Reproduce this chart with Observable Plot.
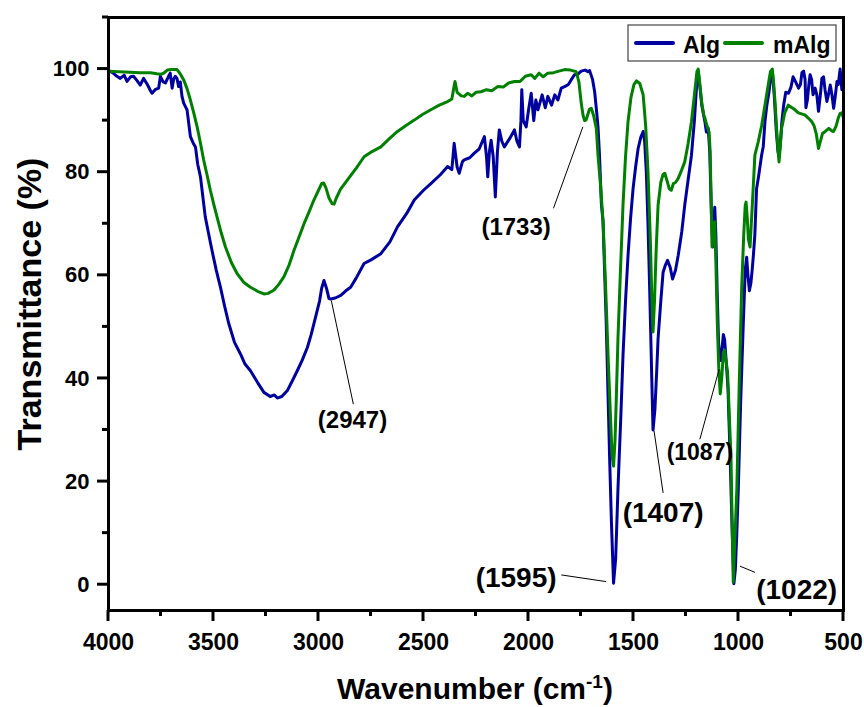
<!DOCTYPE html>
<html><head><meta charset="utf-8">
<script src="https://cdn.jsdelivr.net/npm/d3@7"></script>
<script src="https://cdn.jsdelivr.net/npm/@observablehq/plot@0.6"></script>
<style>
body{margin:0;background:#fff;}
#chart{position:relative;width:864px;height:707px;}
#chart svg text{font-weight:bold;}
</style></head><body><div id="chart"></div>
<script>
// ---- data ----
const algWn = [4000,3980,3960,3944,3925,3912,3895,3881,3865,3849,3833,3815,3800,3793,3778,3761,3753,3740,3729,3715,3706,3697,3690,3682,3674,3666,3658,3650,3642,3626,3610,3595,3586,3575,3562,3550,3539,3523,3507,3487,3467,3447,3427,3400,3371,3350,3324,3290,3260,3230,3210,3196,3175,3149,3125,3101,3078,3053,3035,3014,2995,2985,2974,2962,2950,2942,2920,2894,2870,2847,2820,2783,2750,2703,2660,2624,2580,2544,2500,2465,2420,2385,2365,2354,2340,2330,2315,2306,2280,2258,2235,2210,2200,2194,2186,2178,2168,2158,2148,2139,2127,2115,2090,2067,2055,2043,2036,2032,2025,2011,2000,1987,1975,1965,1955,1935,1920,1908,1890,1875,1860,1844,1828,1810,1797,1781,1765,1749,1730,1717,1709,1695,1685,1675,1669,1662,1653,1645,1630,1614,1605,1595,1585,1574,1560,1550,1538,1526,1514,1502,1490,1478,1465,1454,1447,1439,1431,1423,1413,1407,1398,1390,1383,1370,1359,1348,1338,1325,1314,1300,1287,1270,1256,1240,1224,1210,1200,1192,1185,1175,1160,1153,1144,1137,1129,1122,1117,1113,1108,1101,1095,1090,1084,1078,1072,1066,1058,1050,1040,1030,1022,1015,1008,1001,990,977,968,961,955,948,941,935,929,922,914,905,890,882,874,865,855,845,839,830,820,812,807,800,793,785,775,762,750,740,728,714,705,698,690,683,679,672,665,659,652,645,635,627,619,610,603,595,588,579,572,563,555,547,540,531,525,516,508,500];
const algT = [99.7,99.3,98.6,98.2,98.8,97.6,98.5,98.6,97.8,96.9,98.2,97.0,95.8,95.3,96.0,96.3,98.6,97.5,97.3,98.5,99.2,96.3,98.0,98.6,98.2,96.6,97.5,94.7,93.4,92.1,86.9,85.5,84.9,81.5,79.1,75.0,71.3,68.0,64.8,61.0,57.7,54.0,50.6,47.0,44.7,42.8,41.5,39.2,37.3,36.5,36.8,36.2,36.5,37.6,39.5,41.5,43.5,46.0,48.5,51.9,55.0,57.5,59.0,57.5,55.5,55.4,55.6,56.1,57.0,57.7,59.5,62.3,63.0,64.2,66.5,69.4,72.0,74.6,76.5,77.8,79.5,81.1,80.5,85.6,81.0,79.8,82.0,82.4,82.8,83.7,84.5,86.9,83.0,79.1,84.0,86.2,83.0,75.2,84.0,88.2,86.0,84.9,86.5,88.2,86.0,84.9,90.0,96.0,90.0,88.8,92.0,95.3,90.0,94.0,92.1,95.0,92.5,94.7,93.0,95.0,94.0,96.3,96.6,97.0,97.9,98.9,99.0,99.6,99.8,99.5,99.7,98.0,95.6,91.5,88.8,83.3,73.9,70.4,50.9,25.0,12.0,0.3,5.0,18.5,33.0,44.4,55.0,63.9,71.0,76.8,81.0,84.6,86.8,87.9,86.0,80.1,70.0,57.4,40.0,30.0,34.0,41.0,47.7,55.0,60.6,62.0,62.9,61.5,59.3,61.0,63.9,68.5,73.6,78.5,83.3,90.0,96.5,99.6,97.0,93.0,89.8,87.8,88.5,84.0,72.0,65.5,71.0,73.2,68.0,56.0,47.0,44.0,43.5,46.0,48.5,47.5,43.0,38.0,25.0,10.0,0.2,3.0,10.0,18.5,35.0,50.9,61.0,63.5,60.0,57.0,58.5,61.0,63.9,68.0,76.8,79.0,83.3,85.0,89.8,93.0,95.5,99.0,99.6,95.0,88.0,84.0,83.0,86.0,90.0,93.0,95.5,95.3,96.5,98.5,97.5,96.3,97.0,99.3,99.6,98.0,92.5,94.0,97.0,98.9,98.0,95.0,96.3,95.0,91.8,95.0,98.2,98.5,96.0,93.7,95.0,96.9,95.0,92.4,94.5,97.6,97.0,100.0,96.0,96.5];

const malgWn = [4000,3950,3900,3850,3800,3770,3750,3737,3720,3700,3674,3660,3642,3626,3610,3594,3578,3562,3547,3531,3515,3499,3483,3463,3443,3415,3387,3355,3324,3290,3260,3240,3213,3190,3165,3140,3117,3093,3069,3045,3022,3000,2985,2975,2965,2950,2935,2926,2915,2895,2862,2820,2783,2745,2703,2665,2624,2585,2544,2505,2465,2425,2385,2365,2355,2350,2340,2320,2306,2290,2270,2250,2226,2200,2175,2146,2120,2095,2067,2040,2015,1987,1970,1950,1930,1908,1880,1855,1828,1800,1773,1760,1749,1740,1733,1725,1710,1701,1690,1677,1669,1657,1645,1633,1621,1610,1602,1595,1588,1582,1574,1562,1550,1538,1526,1512,1498,1486,1470,1454,1442,1431,1420,1413,1407,1400,1392,1383,1370,1360,1351,1340,1330,1320,1310,1300,1287,1270,1256,1240,1224,1210,1198,1192,1185,1175,1165,1160,1150,1140,1135,1130,1126,1120,1113,1108,1101,1094,1087,1080,1072,1066,1060,1052,1044,1036,1030,1025,1018,1008,997,985,975,968,964,958,953,945,935,922,906,890,874,860,848,839,832,825,818,812,807,801,795,791,780,763,745,731,715,700,684,668,651,640,630,619,610,600,587,570,555,547,535,525,516,508,500];
const malgT = [99.6,99.5,99.4,99.3,99.3,99.1,99.0,99.2,99.8,99.9,99.9,99.2,97.9,96.2,94.0,91.5,88.8,85.6,82.4,79.5,76.5,73.8,71.3,68.2,65.5,62.5,60.3,58.6,57.7,56.9,56.4,56.5,57.1,58.2,59.7,62.0,64.8,67.4,70.0,72.3,74.6,76.5,77.8,77.9,77.0,75.0,73.9,73.8,75.0,76.7,78.5,80.8,83.0,84.0,84.9,86.4,87.9,89.0,90.1,91.2,92.1,93.0,93.7,94.2,96.5,97.6,95.5,94.8,94.7,95.3,94.8,95.5,95.6,96.0,95.8,96.6,96.5,97.3,97.6,97.6,98.6,98.9,98.2,99.2,98.5,99.2,99.3,99.6,99.9,99.8,99.5,97.5,93.4,91.0,90.0,90.2,92.2,92.4,91.0,88.5,83.3,77.5,70.4,58.0,44.4,33.0,25.0,23.0,28.0,36.0,47.7,61.0,73.6,83.0,89.8,94.5,97.0,97.7,97.2,95.0,89.0,80.1,67.0,56.0,49.0,55.0,65.0,73.6,78.0,79.5,79.8,78.3,76.8,76.5,77.8,78.0,78.8,80.5,82.0,85.5,89.8,95.0,99.5,100.0,97.5,93.5,91.0,90.5,89.0,87.8,84.0,74.0,65.5,69.5,70.4,63.0,50.9,42.0,37.0,40.0,45.0,45.5,43.5,41.2,33.0,25.0,12.0,0.5,8.0,18.5,38.0,57.4,68.0,73.5,74.2,71.0,67.0,65.5,73.0,83.3,85.9,89.0,93.0,96.5,99.5,100.0,97.0,93.0,88.0,84.5,82.0,85.0,88.5,89.2,91.5,93.0,92.5,92.1,91.5,91.3,91.1,90.5,89.8,89.0,87.5,84.6,86.0,87.5,87.9,88.5,88.0,87.9,89.0,90.5,91.4,91.5,90.5];

const seriesNames = ["Alg", "mAlg"];
const seriesColors = ["#0000a0", "#008000"];

const xMajorTicks = [4000, 3500, 3000, 2500, 2000, 1500, 1000, 500];
const xMinorTicks = [3750, 3250, 2750, 2250, 1750, 1250, 750];
const yMajorTicks = [0, 20, 40, 60, 80, 100];
const yMinorTicks = [10, 30, 50, 70, 90, 110];

const peakLabels   = ["(2947)", "(1733)", "(1595)", "(1407)", "(1087)", "(1022)"];
const peakLabelWn  = [2838, 2059, 2059, 1359, 1184, 723];
const peakLabelT   = [31.8, 69.4, 1.2, 13.9, 25.6, -1.0];
const peakLabelSize = [24, 24, 28, 28, 23, 28];
const leaderFromWn = [2939, 1741, 1630, 1402, 1092, 993];
const leaderFromT  = [55.1, 88.8, 0.6, 29.8, 41.8, 3.6];
const leaderToWn   = [2834, 1881, 1844, 1359, 1184, 922];
const leaderToT    = [35.0, 73.0, 1.9, 17.8, 28.2, 2.4];

// ---- tables built from arrays ----
const rows = [
  ...algWn.map((w, i) => ({wn: w, t: algT[i], s: seriesNames[0]})),
  ...malgWn.map((w, i) => ({wn: w, t: malgT[i], s: seriesNames[1]}))
];
const labels = peakLabels.map((txt, i) => ({txt, wn: peakLabelWn[i], t: peakLabelT[i], size: peakLabelSize[i]}));
const leaders = peakLabels.map((txt, i) => ({x1: leaderFromWn[i], y1: leaderFromT[i], x2: leaderToWn[i], y2: leaderToT[i]}));

const W = 864, H = 707;
const mL = 108, mR = 21, mT = 17, mB = 97;
const font = "'Liberation Sans', Arial, Helvetica, sans-serif";

const plot = Plot.plot({
  width: W, height: H,
  marginLeft: mL, marginRight: mR, marginTop: mT, marginBottom: mB,
  style: {fontFamily: font, background: "white", color: "black", overflow: "visible"},
  x: {domain: [4000, 500]},
  y: {domain: [-5, 110]},
  color: {domain: seriesNames, range: seriesColors},
  marks: [
    Plot.line(rows, {x: "wn", y: "t", z: "s", stroke: "s", strokeWidth: 3, strokeLinejoin: "round"}),
    Plot.link(leaders, {x1: "x1", y1: "y1", x2: "x2", y2: "y2", stroke: "black", strokeWidth: 1}),
    Plot.text(labels, {x: "wn", y: "t", text: "txt", fontSize: "size", fontWeight: "bold", fill: "black"}),
    Plot.axisX(xMajorTicks, {tickSize: 0, tickPadding: 23, fontSize: 23, fontWeight: "bold", tickFormat: d => String(d), label: null}),
    Plot.axisY(yMajorTicks, {tickSize: 0, tickPadding: 19, fontSize: 22, fontWeight: "bold", tickFormat: d => String(d), label: null}),
    Plot.frame({stroke: "black", strokeWidth: 3})
  ]
});

document.getElementById("chart").appendChild(plot);

// ---- tick marks drawn with the plot's own scales ----
const svg = d3.select(plot);
const sx = plot.scale("x"), sy = plot.scale("y");
const axisBottom = H - mB, axisLeft = mL;
const tg = svg.append("g").attr("stroke", "black").attr("stroke-width", 3);
function addX(values, len) {
  values.forEach(v => {
    const px = sx.apply(v);
    tg.append("line").attr("x1", px).attr("x2", px).attr("y1", axisBottom).attr("y2", axisBottom + len);
  });
}
function addY(values, len) {
  values.forEach(v => {
    const py = sy.apply(v);
    tg.append("line").attr("y1", py).attr("y2", py).attr("x1", axisLeft).attr("x2", axisLeft - len);
  });
}
addX(xMajorTicks, 11); addX(xMinorTicks, 6);
addY(yMajorTicks, 11); addY(yMinorTicks, 6);

// ---- titles and legend ----
const xt = svg.append("text")
  .attr("x", 475).attr("y", 699)
  .attr("text-anchor", "middle")
  .style("font-family", font).style("font-size", "30px").style("font-weight", "bold").attr("fill", "black");
xt.append("tspan").text("Wavenumber (cm");
xt.append("tspan").attr("dy", -11).style("font-size", "19px").text("-1");
xt.append("tspan").attr("dy", 11).text(")");

svg.append("text")
  .attr("transform", "translate(41,304) rotate(-90)")
  .attr("text-anchor", "middle")
  .style("font-family", font).style("font-size", "34px").style("font-weight", "bold").attr("fill", "black")
  .text("Transmittance (%)");

const lg = svg.append("g");
lg.append("rect").attr("x", 628).attr("y", 25).attr("width", 208).attr("height", 36)
  .attr("fill", "white").attr("stroke", "#444").attr("stroke-width", 1.2);
const legendX = [636, 725];
seriesNames.forEach((name, i) => {
  lg.append("line").attr("x1", legendX[i]).attr("x2", legendX[i] + 37).attr("y1", 43).attr("y2", 43)
    .attr("stroke", seriesColors[i]).attr("stroke-width", 4).attr("stroke-linecap", "round");
  lg.append("text").attr("x", legendX[i] + (i === 0 ? 47 : 48)).attr("y", 53)
    .attr("text-anchor", "start")
    .style("font-family", font).style("font-size", "23px").style("font-weight", "bold").attr("fill", "black")
    .text(name);
});
</script>
</body></html>
